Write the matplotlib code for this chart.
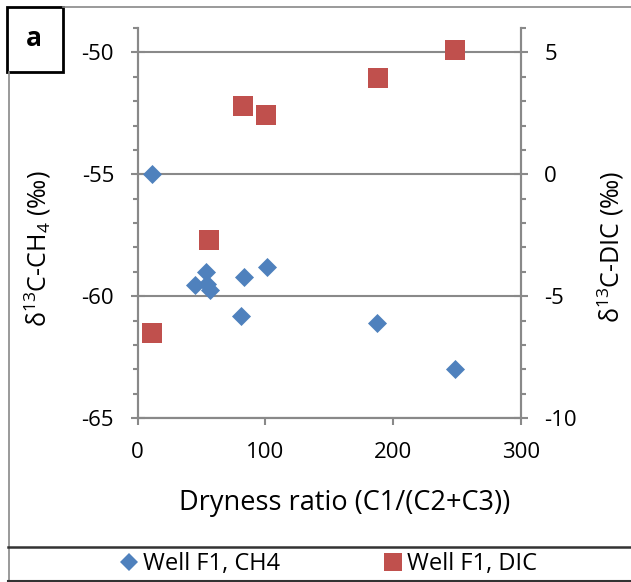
import matplotlib
matplotlib.use('Agg')
import matplotlib.pyplot as plt
from matplotlib.lines import Line2D
from matplotlib.patches import Rectangle
from matplotlib.ticker import MultipleLocator

# data
ch4_dryness = [11, 45, 53.8, 54.3, 56.4, 82.9, 101.3, 81.1, 187.6, 248.8]
ch4_d13c = [-54.99, -59.53, -59.0, -59.5, -59.75, -59.23, -58.82, -60.82, -61.12, -63.0]
dic_dryness = [11.5, 55.6, 82.7, 100.8, 188, 248.8]
dic_d13c = [-6.5, -2.7, 2.8, 2.45, 3.95, 5.1]

blue = '#4F81BD'
red = '#C0504D'
gray = '#898989'

plt.rcParams['font.family'] = ['Open Sans', 'DejaVu Sans']
plt.rcParams['mathtext.fontset'] = 'custom'
plt.rcParams['mathtext.rm'] = 'Open Sans'
plt.rcParams['mathtext.it'] = 'Open Sans'
plt.rcParams['axes.unicode_minus'] = False

W, H = 631, 582
fig = plt.figure(figsize=(W / 100, H / 100), dpi=100)
# plot area: x 137.7..520.7 px, y 28..418 px
ax = fig.add_axes([137.7 / W, 1 - 418 / H, 383 / W, 390 / H])
ax2 = ax.twinx()

ax.scatter(ch4_dryness, ch4_d13c, marker='D', s=9.7 ** 2, color=blue,
           linewidths=0, zorder=3)
ax2.scatter(dic_dryness, dic_d13c, marker='s', s=14.3 ** 2, color=red,
            linewidths=0, zorder=3)

ax.set_xlim(0, 300)
ax.set_ylim(-65, -49)
ax2.set_ylim(-10, 6)
ax.set_xticks([0, 100, 200, 300])
ax.set_yticks([-65, -60, -55, -50])
ax2.set_yticks([-10, -5, 0, 5])
ax.yaxis.set_minor_locator(MultipleLocator(1))
ax2.yaxis.set_minor_locator(MultipleLocator(1))

for a in (ax, ax2):
    a.spines['top'].set_visible(False)
    for side in ('left', 'right', 'bottom'):
        a.spines[side].set_color(gray)
        a.spines[side].set_linewidth(1.5)
    a.tick_params(axis='y', which='major', direction='inout', length=10,
                  width=1.5, color=gray, labelsize=16, pad=12)
    a.tick_params(axis='y', which='minor', direction='out', length=3.8,
                  width=1.5, color=gray)
ax.tick_params(axis='x', which='major', direction='out', length=5,
               width=1.5, color=gray, labelsize=16, pad=12)
ax.grid(axis='y', color=gray, linewidth=1.5)
ax.set_axisbelow(True)

ax.set_xlabel('Dryness ratio (C1/(C2+C3))', fontsize=19.5)
ax.xaxis.set_label_coords((345 - 137.7) / 383, -(503 - 418) / 390)
ax.xaxis.label.set_va('center')
ax.set_ylabel(r'δ$^{13}$C-CH$_4$ (‰)', fontsize=18, va='center')
ax.yaxis.set_label_coords((37.5 - 137.7) / 383, (418 - 249) / 390)
ax2.set_ylabel(r'δ$^{13}$C-DIC (‰)', fontsize=18, va='center')
ax2.yaxis.set_label_coords((611 - 137.7) / 383, (418 - 247) / 390)

# outer chart frame, legend strip and panel label
fig.add_artist(Line2D([63 / W, 1], [1 - 7 / H, 1 - 7 / H], color=gray, lw=1.2))
fig.add_artist(Line2D([9 / W, 9 / W], [1 - 72 / H, 0], color=gray, lw=1.2))
fig.add_artist(Line2D([8 / W, 1], [1 - 547 / H, 1 - 547 / H],
                      color='#333333', lw=1.8))
fig.add_artist(Line2D([8 / W, 1], [1 - 580.5 / H, 1 - 580.5 / H],
                      color='#333333', lw=1.5))
fig.add_artist(Rectangle((7 / W, 1 - 72 / H), 56 / W, 65 / H,
                         transform=fig.transFigure, facecolor='white',
                         edgecolor='black', lw=2))
fig.text(34 / W, 1 - 38 / H, 'a', fontsize=19, fontweight='bold',
         ha='center', va='center')

handles = [
    Line2D([], [], marker='D', ls='', color=blue, markersize=8.8, mew=0),
    Line2D([], [], marker='s', ls='', color=red, markersize=13, mew=0),
]
fig.legend(handles, ['Well F1, CH4', 'Well F1, DIC'], loc='center',
           bbox_to_anchor=(327 / W, 1 - 564 / H), ncol=2, frameon=False,
           fontsize=17, handletextpad=0.1, columnspacing=4.3,
           handlelength=1.0, borderaxespad=0)

fig.savefig('out.png', dpi=100)
